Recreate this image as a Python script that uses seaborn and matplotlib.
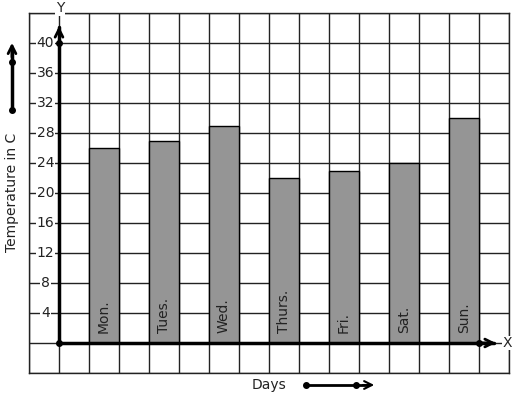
import matplotlib
matplotlib.use("Agg")
import matplotlib.pyplot as plt
import seaborn as sns
import pandas as pd
import numpy as np

days = ["Mon.", "Tues.", "Wed.", "Thurs.", "Fri.", "Sat.", "Sun."]
temps = [26, 27, 29, 22, 23, 24, 30]
y_tick_values = [4, 8, 12, 16, 20, 24, 28, 32, 36, 40]
y_label = "Temperature in C"
x_label = "Days"

sns.set_style("white")
plt.rcParams["font.family"] = ["DejaVu Sans"]

W, H = 517, 399
fig = plt.figure(figsize=(W / 100, H / 100), dpi=100)
ax = fig.add_axes([29 / W, (H - 373) / H, 480 / W, 360 / H])

# bar centres: every second grid cell starting at the first cell after the origin
pos = [1.5 + 2 * i for i in range(len(days))]
df = pd.DataFrame({"pos": pos, "temp": temps, "day": days})

sns.barplot(data=df, x="pos", y="temp", native_scale=True, width=0.5,
            color="#959595", saturation=1, edgecolor="black", linewidth=1,
            ax=ax, zorder=3)

ax.set_xlim(-1, 15)
ax.set_ylim(-4, 44)
ax.set_xticks(np.arange(-1, 16, 1))
ax.set_yticks(np.arange(-4, 45, 4))
ax.grid(True, color="#222222", linewidth=1)
ax.set_axisbelow(True)
ax.tick_params(left=False, bottom=False, labelleft=False, labelbottom=False)
ax.set_xlabel("")
ax.set_ylabel("")
for s in ax.spines.values():
    s.set_color("#222222")
    s.set_linewidth(1)

# y tick labels drawn over the grid with white background
for v in y_tick_values:
    ax.text(-0.45, v, str(v), ha="center", va="center", fontsize=10,
            color="#222222", zorder=4,
            bbox=dict(facecolor="white", edgecolor="none", pad=0.5))

# bar labels
for p, d in zip(pos, days):
    ax.text(p, 1.3, d, rotation=90, ha="center", va="bottom", fontsize=10,
            color="#222222", zorder=5)

# axes with arrows
ax.plot([0, 0], [0, 42.2], color="black", lw=2.5, zorder=6, clip_on=False)
ax.annotate("", xy=(0, 42.6), xytext=(0, 41.0),
            arrowprops=dict(arrowstyle="->", lw=2, color="black",
                            mutation_scale=14), zorder=6)
ax.plot([0, 14.5], [0, 0], color="black", lw=2.5, zorder=6, clip_on=False)
ax.annotate("", xy=(14.65, 0), xytext=(14.0, 0),
            arrowprops=dict(arrowstyle="->", lw=2, color="black",
                            mutation_scale=14), zorder=6)
ax.plot([0, 0, 14], [0, 40, 0], "o", color="black", ms=4, zorder=7,
        clip_on=False)
ax.text(14.95, 0, "X", ha="center", va="center", fontsize=10, zorder=7,
        bbox=dict(facecolor="white", edgecolor="none", pad=0.3))
ax.text(0.03, 44.6, "Y", ha="center", va="center", fontsize=10, zorder=7,
        clip_on=False, bbox=dict(facecolor="white", edgecolor="none", pad=0.3))

# left decorative arrow and label (figure pixels)
fig.add_artist(plt.Line2D([12 / W, 12 / W], [(H - 110) / H, (H - 50) / H],
                          color="black", lw=2.5))
fig.add_artist(matplotlib.patches.FancyArrowPatch(
    (12 / W, (H - 60) / H), (12 / W, (H - 40) / H), transform=fig.transFigure,
    arrowstyle="->", lw=2, color="black", mutation_scale=14))
fig.add_artist(plt.Line2D([12 / W, 12 / W], [(H - 62) / H, (H - 110) / H],
                          color="black", lw=0, marker="o", ms=4))
fig.text(12 / W, (H - 192) / H, y_label, rotation=90, ha="center",
         va="center", fontsize=10, color="#222222")

# bottom label and arrow
fig.text(269 / W, (H - 385) / H, x_label, ha="center", va="center",
         fontsize=10, color="#222222")
fig.add_artist(plt.Line2D([306 / W, 368 / W], [(H - 385) / H, (H - 385) / H],
                          color="black", lw=2))
fig.add_artist(matplotlib.patches.FancyArrowPatch(
    (360 / W, (H - 385) / H), (377 / W, (H - 385) / H),
    transform=fig.transFigure, arrowstyle="->", lw=1.5, color="black",
    mutation_scale=14))
fig.add_artist(plt.Line2D([306 / W, 356 / W], [(H - 385) / H, (H - 385) / H],
                          color="black", lw=0, marker="o", ms=4))

fig.savefig("out.png", dpi=100)
